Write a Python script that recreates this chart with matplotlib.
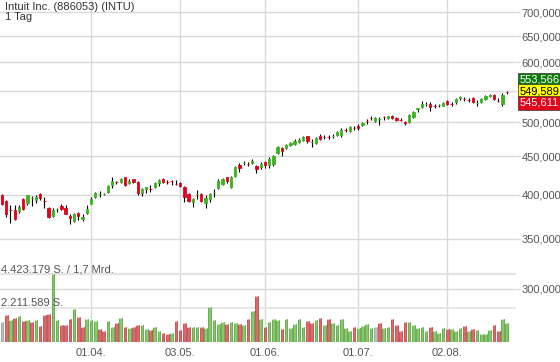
import matplotlib
matplotlib.use("Agg")
import matplotlib.pyplot as plt
import matplotlib.ticker as mticker
import matplotlib.transforms as mtrans
import numpy as np
import pandas as pd

plt.rcParams.update({
    "font.family": ["Liberation Sans", "DejaVu Sans"],
    "font.size": 8,
})

# ── Daten ─────────────────────────────────────────────────
title = "Intuit Inc. (886053) (INTU)"
period = "1 Tag"
holidays = ["2021-04-02", "2021-05-31", "2021-07-05"]

opens = [400.0, 392.8, 382.5, 382.1, 381.0, 395.2, 390.4, 396.2, 394.0, 401.2,
         393.2, 384.5, 375.2, 383.0, 386.8, 384.5, 375.2, 369.5, 378.6, 371.8,
         378.6, 389.2, 397.6, 400.8, 400.9, 403.7, 412.4, 416.6, 416.3, 422.7,
         415.0, 420.1, 416.3, 402.5, 407.4, 407.8, 409.9, 415.0, 420.1, 416.6,
         417.8, 414.0, 415.0, 409.9, 401.2, 391.6, 400.9, 401.2, 390.4, 395.2,
         403.4, 408.7, 413.7, 422.7, 409.9, 424.0, 438.5, 440.9, 440.2, 441.2,
         437.2, 435.9, 442.6, 438.5, 439.9, 454.9, 461.9, 461.9, 466.1, 467.6,
         470.4, 473.3, 479.2, 470.0, 469.0, 479.2, 478.0, 478.0, 478.9, 480.7,
         480.7, 488.3, 486.5, 491.3, 494.1, 495.6, 502.0, 506.6, 501.7, 504.5,
         508.1, 506.0, 510.0, 506.3, 503.5, 499.3, 499.6, 508.3, 520.5, 524.1,
         527.6, 528.4, 525.5, 526.0, 525.7, 533.3, 528.7, 531.2, 538.4, 536.9,
         535.2, 537.7, 529.7, 531.1, 536.6, 541.7, 543.1, 533.7, 527.9, 547.9]
highs = [401.2, 394.0, 388.0, 388.0, 388.0, 396.0, 400.5, 398.8, 400.0, 402.5,
         397.6, 385.6, 384.5, 384.5, 389.2, 388.0, 377.5, 378.6, 379.8, 377.5,
         388.0, 397.6, 403.7, 404.9, 402.5, 412.4, 422.7, 417.5, 421.4, 423.0,
         420.1, 420.5, 417.5, 408.7, 410.3, 412.4, 416.3, 420.1, 421.4, 418.8,
         418.8, 418.8, 416.3, 411.2, 402.5, 396.4, 406.2, 402.5, 400.0, 402.5,
         407.4, 420.1, 421.4, 423.0, 424.0, 437.2, 441.2, 443.9, 442.6, 446.6,
         438.5, 442.6, 443.9, 449.4, 452.1, 464.7, 463.3, 467.6, 470.4, 474.8,
         476.3, 479.2, 479.5, 474.8, 477.7, 482.1, 480.7, 480.7, 482.1, 486.5,
         491.0, 491.0, 494.1, 494.1, 497.1, 500.1, 504.8, 509.4, 507.8, 507.8,
         509.4, 510.0, 511.5, 507.8, 505.5, 501.7, 512.0, 517.3, 522.5, 533.3,
         531.0, 531.0, 528.4, 529.0, 532.0, 534.9, 531.6, 538.2, 542.0, 539.8,
         538.2, 539.0, 534.9, 537.7, 543.1, 544.8, 544.0, 537.7, 547.0, 550.4]
lows = [388.0, 374.1, 367.2, 370.6, 378.6, 382.5, 388.0, 386.8, 390.4, 394.0,
        384.5, 372.9, 374.1, 379.8, 382.1, 377.0, 366.1, 368.4, 370.6, 369.5,
        377.5, 388.7, 396.4, 397.6, 400.0, 402.5, 408.7, 413.7, 415.0, 411.2,
        413.7, 415.0, 400.0, 398.8, 402.5, 403.7, 408.7, 411.2, 415.0, 413.7,
        412.4, 412.4, 409.9, 391.6, 391.6, 385.6, 395.2, 391.6, 384.5, 391.6,
        397.6, 407.4, 412.4, 415.0, 408.7, 422.7, 429.2, 438.5, 437.2, 439.9,
        427.9, 433.2, 434.5, 434.5, 437.2, 453.5, 450.7, 460.5, 464.7, 466.1,
        469.0, 471.9, 469.0, 463.3, 467.6, 473.3, 474.8, 474.8, 476.3, 479.2,
        477.7, 485.1, 485.1, 488.0, 488.0, 494.1, 497.1, 503.2, 500.1, 495.6,
        503.2, 504.8, 504.8, 501.0, 501.0, 495.0, 498.6, 506.3, 515.0, 522.0,
        524.8, 517.3, 522.0, 522.8, 524.5, 526.8, 525.2, 529.0, 534.9, 533.3,
        531.6, 530.0, 525.7, 529.5, 535.0, 539.0, 535.5, 531.7, 525.2, 544.8]
closes = [389.2, 377.5, 381.8, 371.8, 385.6, 383.3, 400.0, 396.8, 397.6, 396.4,
          392.6, 374.1, 382.1, 383.6, 383.3, 377.5, 372.9, 377.5, 375.2, 374.1,
          383.3, 395.2, 402.5, 401.4, 401.5, 411.2, 417.5, 416.0, 420.1, 412.4,
          417.5, 416.3, 402.5, 407.4, 409.9, 407.2, 415.0, 418.8, 416.3, 416.0,
          417.2, 413.4, 411.2, 397.6, 392.8, 395.2, 401.5, 392.8, 396.4, 401.2,
          404.0, 417.5, 420.1, 417.5, 422.7, 435.9, 434.5, 441.5, 439.6, 443.9,
          433.2, 439.9, 438.5, 446.6, 450.7, 463.3, 457.7, 466.1, 469.0, 471.9,
          473.3, 477.7, 471.9, 470.8, 476.3, 474.8, 477.4, 477.4, 479.5, 485.1,
          488.0, 487.7, 492.5, 490.7, 491.0, 498.6, 501.4, 506.0, 506.3, 505.1,
          507.5, 508.6, 506.0, 502.5, 502.9, 498.7, 510.9, 516.2, 521.1, 528.4,
          528.2, 524.1, 524.9, 526.6, 530.5, 528.4, 528.1, 536.6, 539.0, 536.3,
          534.6, 531.1, 530.3, 536.1, 541.5, 542.3, 536.6, 533.1, 543.1, 547.3]
volumes = [1307000, 1787000, 1460000, 1591000, 1721000, 1373000, 1416000, 1286000, 1416000, 1068000,
           1743000, 1852000, 4423179, 1460000, 1133000, 1133000, 1525000, 2135000, 1612000, 980000,
           1525000, 1438000, 1351000, 828000, 697000, 1373000, 1002000, 1220000, 1569000, 1002000,
           915000, 980000, 1133000, 1089000, 872000, 763000, 959000, 697000, 566000, 545000,
           610000, 1394000, 763000, 1220000, 959000, 959000, 959000, 980000, 915000, 2266000,
           1416000, 1198000, 1286000, 1198000, 1307000, 1264000, 1198000, 1133000, 1482000, 2004000,
           2985000, 1482000, 959000, 1307000, 1482000, 1416000, 872000, 1525000, 915000, 1155000,
           1482000, 959000, 1351000, 1220000, 1460000, 1591000, 1089000, 1482000, 1220000, 1089000,
           1503000, 937000, 719000, 959000, 893000, 1068000, 1177000, 937000, 980000, 1264000,
           915000, 1002000, 1482000, 1089000, 697000, 1307000, 1286000, 1133000, 893000, 959000,
           697000, 980000, 697000, 610000, 893000, 850000, 872000, 697000, 893000, 1024000,
           719000, 872000, 763000, 501000, 545000, 784000, 1089000, 719000, 1482000, 1220000]
# g = gestiegen, r = gefallen, n = unveraendert
vol_dir = ("nrgrgrgrgr" "rrggrrrgrr" "gggrrggrgr" "grrggrggrr" "grrrrggrgg" "gggrggrgrg"
           "rgrgggrggg" "ggrrgrgrgg" "gggrggggnr" "ggrrrrgggg" "grgggrgggr" "grggggrrgg")
quotes = {"ask": 553.566, "last": 549.589, "bid": 545.611}
price_ticks = [300, 350, 400, 450, 500, 550, 600, 650, 700]
hidden_tick = 550   # liegt hinter den Kursboxen
vol_label = "{} S. / 1,7 Mrd."

# ── Farben ────────────────────────────────────────────────
GREEN = "#3cb521"
RED = "#e2001a"
GRID = "#d9d9d9"
TXT = "#555555"
VFILL = {"g": "#88c96e", "r": "#dc6a6d", "n": "#bdbdbd"}
VEDGE = {"g": "#5fa446", "r": "#bf4a4e", "n": "#a0a0a0"}
VCAP = {"g": "#cfe9c2", "r": "#f2c2c3", "n": "#e2e2e2"}

dates = pd.bdate_range("2021-03-03", "2021-08-20")
dates = dates[~dates.isin(pd.to_datetime(holidays))]
x = np.arange(len(dates))
o, h, l, c = map(np.array, (opens, highs, lows, closes))

fig = plt.figure(figsize=(5.6, 3.62), dpi=100)
rect = [0, 20 / 362, 516 / 560, 342 / 362]
ax = fig.add_axes(rect)
ax.set_yscale("log")
ax.set_ylim(255.1, 726.2)
ax.set_xlim(-0.47, 121.2)
for s in ax.spines.values():
    s.set_visible(False)


def price_fmt(v, _):
    if abs(v - hidden_tick) < 1e-6:
        return ""
    return f"{v:.3f}".replace(".", ",")


ax.yaxis.tick_right()
ax.yaxis.set_major_locator(mticker.FixedLocator(price_ticks))
ax.yaxis.set_minor_locator(mticker.NullLocator())
ax.yaxis.set_major_formatter(mticker.FuncFormatter(price_fmt))
ax.tick_params(axis="y", length=3, width=1, color=GRID, pad=1, labelcolor=TXT, labelsize=8)

month_start = [i for i in range(1, len(dates)) if dates[i].month != dates[i - 1].month]
ax.set_xticks(month_start)
ax.set_xticklabels([dates[i].strftime("%d.%m.") for i in month_start])
ax.tick_params(axis="x", length=0, pad=4, labelcolor=TXT, labelsize=8)
ax.grid(True, color=GRID, lw=1)
ax.set_axisbelow(True)

# Kerzen
cols = np.where(c >= o, GREEN, RED)
ax.vlines(x, l, h, color="black", lw=0.8, zorder=2)
ax.bar(x, np.abs(c - o), bottom=np.minimum(o, c), width=0.55, color=cols,
       edgecolor=cols, linewidth=0.6, zorder=3)

# Kursboxen rechts
for key, dy, fc, tc in [("ask", 11.5, "#0b7a0b", "white"), ("last", 0, "#ffff00", "black"),
                        ("bid", -11.5, "#e2001a", "white")]:
    ax.annotate(f"{quotes[key]:.3f}".replace(".", ","), xy=(1, quotes["last"]),
                xycoords=ax.get_yaxis_transform(), xytext=(4, dy), textcoords="offset pixels",
                ha="left", va="center", color=tc, fontsize=8, annotation_clip=False, zorder=10,
                bbox=dict(boxstyle="square,pad=0.18", fc=fc, ec="#333333", lw=0.5))

# Volumen
vmax = max(volumes)
vax = fig.add_axes(rect, sharex=ax)
vax.patch.set_visible(False)
vax.axis("off")
vax.set_ylim(0, vmax * 342 / 68)
vax.axhline(vmax, color="#e3e3e3", lw=1.6, zorder=0)
vax.axhline(vmax / 2, color="#e3e3e3", lw=1.2, zorder=0)
vols = np.array(volumes)
vfill = [VFILL[d] for d in vol_dir]
vedge = [VEDGE[d] for d in vol_dir]
vax.bar(x, vols, width=0.62, color=vfill, edgecolor=vedge, linewidth=0.6, zorder=2)
cap = vmax * 342 / 68 / 342 * 1.2
vax.bar(x, cap, bottom=vols - cap, width=0.62, color=[VCAP[d] for d in vol_dir],
        linewidth=0, zorder=3)

trans = mtrans.blended_transform_factory(vax.transAxes, vax.transData)
vax.text(0.002, vmax, vol_label.format(f"{vmax:,}".replace(",", ".")), transform=trans,
         ha="left", va="bottom", color=TXT, fontsize=8)
vax.text(0.002, vmax / 2, f"{int(vmax / 2):,}".replace(",", ".") + " S.", transform=trans,
         ha="left", va="bottom", color=TXT, fontsize=8)

fig.text(5 / 560, 1 - 7 / 362, title, ha="left", va="center", color="#333333", fontsize=8)
fig.text(5 / 560, 1 - 17 / 362, period, ha="left", va="center", color="#333333", fontsize=8)

fig.savefig("out.png", dpi=100)
